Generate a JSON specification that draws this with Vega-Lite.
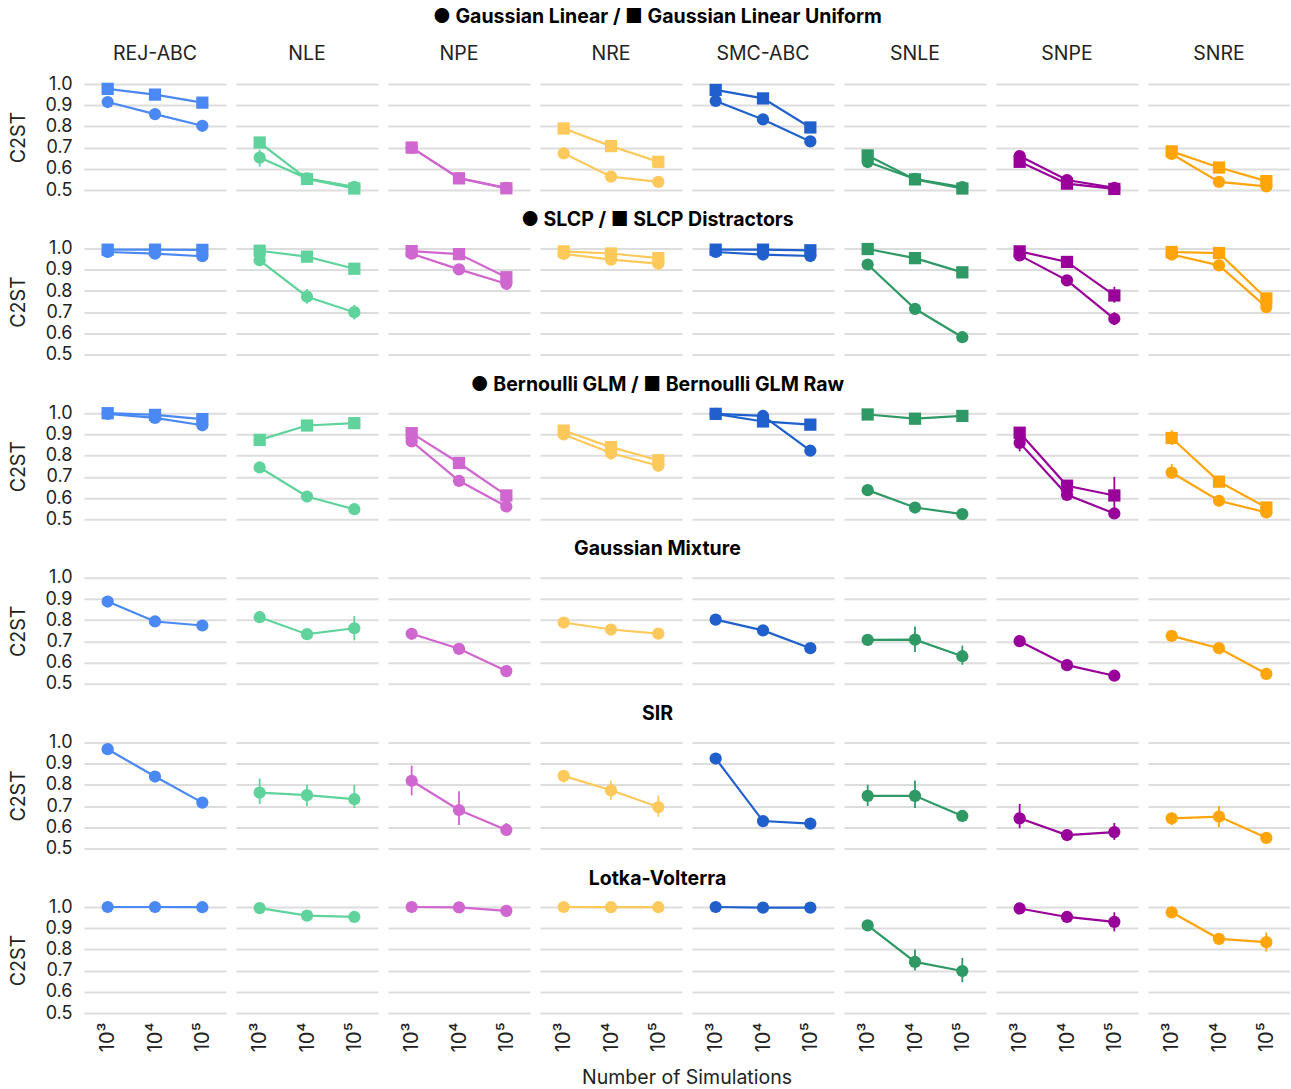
{
  "$schema": "https://vega.github.io/schema/vega-lite/v6.json",
  "padding": {"left": 8, "top": 7, "right": 0, "bottom": 0},
  "config": {
    "font": "Inter",
    "view": {"stroke": null},
    "title": {"fontSize": 19.5, "fontWeight": "bold", "color": "#000", "anchor": "middle", "offset": 9, "dx": 8},
    "axis": {"labelFontSize": 18, "labelColor": "#222", "titleFontSize": 19.5, "titleFontWeight": "normal", "titleColor": "#222", "domain": false, "ticks": false},
    "header": {"labelFontSize": 19.5, "labelColor": "#222", "titleFontSize": 19.5, "titleFontWeight": "normal", "titleColor": "#222"},
    "facet": {"spacing": 10},
    "concat": {"spacing": 10.6}
  },
  "datasets": {
    "r1": [
      {"alg":"REJ-ABC","sims":"10³","shape":"circle","c2st":0.915},
      {"alg":"REJ-ABC","sims":"10⁴","shape":"circle","c2st":0.858},
      {"alg":"REJ-ABC","sims":"10⁵","shape":"circle","c2st":0.803},
      {"alg":"REJ-ABC","sims":"10³","shape":"square","c2st":0.977},
      {"alg":"REJ-ABC","sims":"10⁴","shape":"square","c2st":0.950},
      {"alg":"REJ-ABC","sims":"10⁵","shape":"square","c2st":0.912},
      {"alg":"NLE","sims":"10³","shape":"circle","c2st":0.653,"lo":0.61,"hi":0.69},
      {"alg":"NLE","sims":"10⁴","shape":"circle","c2st":0.555},
      {"alg":"NLE","sims":"10⁵","shape":"circle","c2st":0.515},
      {"alg":"NLE","sims":"10³","shape":"square","c2st":0.724},
      {"alg":"NLE","sims":"10⁴","shape":"square","c2st":0.552},
      {"alg":"NLE","sims":"10⁵","shape":"square","c2st":0.507},
      {"alg":"NPE","sims":"10³","shape":"circle","c2st":0.700},
      {"alg":"NPE","sims":"10⁴","shape":"circle","c2st":0.556},
      {"alg":"NPE","sims":"10⁵","shape":"circle","c2st":0.510},
      {"alg":"NPE","sims":"10³","shape":"square","c2st":0.700},
      {"alg":"NPE","sims":"10⁴","shape":"square","c2st":0.555},
      {"alg":"NPE","sims":"10⁵","shape":"square","c2st":0.508},
      {"alg":"NRE","sims":"10³","shape":"circle","c2st":0.673},
      {"alg":"NRE","sims":"10⁴","shape":"circle","c2st":0.563},
      {"alg":"NRE","sims":"10⁵","shape":"circle","c2st":0.538},
      {"alg":"NRE","sims":"10³","shape":"square","c2st":0.790,"lo":0.775,"hi":0.81},
      {"alg":"NRE","sims":"10⁴","shape":"square","c2st":0.707},
      {"alg":"NRE","sims":"10⁵","shape":"square","c2st":0.633},
      {"alg":"SMC-ABC","sims":"10³","shape":"circle","c2st":0.920},
      {"alg":"SMC-ABC","sims":"10⁴","shape":"circle","c2st":0.833},
      {"alg":"SMC-ABC","sims":"10⁵","shape":"circle","c2st":0.729},
      {"alg":"SMC-ABC","sims":"10³","shape":"square","c2st":0.972,"lo":0.955,"hi":0.99},
      {"alg":"SMC-ABC","sims":"10⁴","shape":"square","c2st":0.932,"lo":0.915,"hi":0.948},
      {"alg":"SMC-ABC","sims":"10⁵","shape":"square","c2st":0.795},
      {"alg":"SNLE","sims":"10³","shape":"circle","c2st":0.632},
      {"alg":"SNLE","sims":"10⁴","shape":"circle","c2st":0.552},
      {"alg":"SNLE","sims":"10⁵","shape":"circle","c2st":0.514},
      {"alg":"SNLE","sims":"10³","shape":"square","c2st":0.663},
      {"alg":"SNLE","sims":"10⁴","shape":"square","c2st":0.550},
      {"alg":"SNLE","sims":"10⁵","shape":"square","c2st":0.507},
      {"alg":"SNPE","sims":"10³","shape":"circle","c2st":0.660},
      {"alg":"SNPE","sims":"10⁴","shape":"circle","c2st":0.547},
      {"alg":"SNPE","sims":"10⁵","shape":"circle","c2st":0.510},
      {"alg":"SNPE","sims":"10³","shape":"square","c2st":0.633},
      {"alg":"SNPE","sims":"10⁴","shape":"square","c2st":0.530},
      {"alg":"SNPE","sims":"10⁵","shape":"square","c2st":0.505},
      {"alg":"SNRE","sims":"10³","shape":"circle","c2st":0.670},
      {"alg":"SNRE","sims":"10⁴","shape":"circle","c2st":0.538},
      {"alg":"SNRE","sims":"10⁵","shape":"circle","c2st":0.517},
      {"alg":"SNRE","sims":"10³","shape":"square","c2st":0.682},
      {"alg":"SNRE","sims":"10⁴","shape":"square","c2st":0.606},
      {"alg":"SNRE","sims":"10⁵","shape":"square","c2st":0.542}
    ],
    "r2": [
      {"alg":"REJ-ABC","sims":"10³","shape":"circle","c2st":0.984},
      {"alg":"REJ-ABC","sims":"10⁴","shape":"circle","c2st":0.976},
      {"alg":"REJ-ABC","sims":"10⁵","shape":"circle","c2st":0.964},
      {"alg":"REJ-ABC","sims":"10³","shape":"square","c2st":0.995},
      {"alg":"REJ-ABC","sims":"10⁴","shape":"square","c2st":0.995},
      {"alg":"REJ-ABC","sims":"10⁵","shape":"square","c2st":0.994},
      {"alg":"NLE","sims":"10³","shape":"circle","c2st":0.945},
      {"alg":"NLE","sims":"10⁴","shape":"circle","c2st":0.773,"lo":0.74,"hi":0.81},
      {"alg":"NLE","sims":"10⁵","shape":"circle","c2st":0.700,"lo":0.665,"hi":0.735},
      {"alg":"NLE","sims":"10³","shape":"square","c2st":0.990},
      {"alg":"NLE","sims":"10⁴","shape":"square","c2st":0.962},
      {"alg":"NLE","sims":"10⁵","shape":"square","c2st":0.905},
      {"alg":"NPE","sims":"10³","shape":"circle","c2st":0.976},
      {"alg":"NPE","sims":"10⁴","shape":"circle","c2st":0.902},
      {"alg":"NPE","sims":"10⁵","shape":"circle","c2st":0.834},
      {"alg":"NPE","sims":"10³","shape":"square","c2st":0.988},
      {"alg":"NPE","sims":"10⁴","shape":"square","c2st":0.974},
      {"alg":"NPE","sims":"10⁵","shape":"square","c2st":0.865,"lo":0.845,"hi":0.88},
      {"alg":"NRE","sims":"10³","shape":"circle","c2st":0.975},
      {"alg":"NRE","sims":"10⁴","shape":"circle","c2st":0.948},
      {"alg":"NRE","sims":"10⁵","shape":"circle","c2st":0.929},
      {"alg":"NRE","sims":"10³","shape":"square","c2st":0.987},
      {"alg":"NRE","sims":"10⁴","shape":"square","c2st":0.977},
      {"alg":"NRE","sims":"10⁵","shape":"square","c2st":0.955},
      {"alg":"SMC-ABC","sims":"10³","shape":"circle","c2st":0.984},
      {"alg":"SMC-ABC","sims":"10⁴","shape":"circle","c2st":0.972},
      {"alg":"SMC-ABC","sims":"10⁵","shape":"circle","c2st":0.965},
      {"alg":"SMC-ABC","sims":"10³","shape":"square","c2st":0.995},
      {"alg":"SMC-ABC","sims":"10⁴","shape":"square","c2st":0.995},
      {"alg":"SMC-ABC","sims":"10⁵","shape":"square","c2st":0.992},
      {"alg":"SNLE","sims":"10³","shape":"circle","c2st":0.925},
      {"alg":"SNLE","sims":"10⁴","shape":"circle","c2st":0.716},
      {"alg":"SNLE","sims":"10⁵","shape":"circle","c2st":0.582},
      {"alg":"SNLE","sims":"10³","shape":"square","c2st":0.998},
      {"alg":"SNLE","sims":"10⁴","shape":"square","c2st":0.955},
      {"alg":"SNLE","sims":"10⁵","shape":"square","c2st":0.888},
      {"alg":"SNPE","sims":"10³","shape":"circle","c2st":0.968},
      {"alg":"SNPE","sims":"10⁴","shape":"circle","c2st":0.850},
      {"alg":"SNPE","sims":"10⁵","shape":"circle","c2st":0.669,"lo":0.64,"hi":0.70},
      {"alg":"SNPE","sims":"10³","shape":"square","c2st":0.987},
      {"alg":"SNPE","sims":"10⁴","shape":"square","c2st":0.937},
      {"alg":"SNPE","sims":"10⁵","shape":"square","c2st":0.779,"lo":0.745,"hi":0.82},
      {"alg":"SNRE","sims":"10³","shape":"circle","c2st":0.972},
      {"alg":"SNRE","sims":"10⁴","shape":"circle","c2st":0.921},
      {"alg":"SNRE","sims":"10⁵","shape":"circle","c2st":0.724,"lo":0.71,"hi":0.74},
      {"alg":"SNRE","sims":"10³","shape":"square","c2st":0.984},
      {"alg":"SNRE","sims":"10⁴","shape":"square","c2st":0.979},
      {"alg":"SNRE","sims":"10⁵","shape":"square","c2st":0.765,"lo":0.74,"hi":0.78}
    ],
    "r3": [
      {"alg":"REJ-ABC","sims":"10³","shape":"circle","c2st":0.997},
      {"alg":"REJ-ABC","sims":"10⁴","shape":"circle","c2st":0.978},
      {"alg":"REJ-ABC","sims":"10⁵","shape":"circle","c2st":0.943},
      {"alg":"REJ-ABC","sims":"10³","shape":"square","c2st":1.0},
      {"alg":"REJ-ABC","sims":"10⁴","shape":"square","c2st":0.992},
      {"alg":"REJ-ABC","sims":"10⁵","shape":"square","c2st":0.972},
      {"alg":"NLE","sims":"10³","shape":"circle","c2st":0.744},
      {"alg":"NLE","sims":"10⁴","shape":"circle","c2st":0.607},
      {"alg":"NLE","sims":"10⁵","shape":"circle","c2st":0.547},
      {"alg":"NLE","sims":"10³","shape":"square","c2st":0.874,"lo":0.86,"hi":0.89},
      {"alg":"NLE","sims":"10⁴","shape":"square","c2st":0.942},
      {"alg":"NLE","sims":"10⁵","shape":"square","c2st":0.953},
      {"alg":"NPE","sims":"10³","shape":"circle","c2st":0.867},
      {"alg":"NPE","sims":"10⁴","shape":"circle","c2st":0.681},
      {"alg":"NPE","sims":"10⁵","shape":"circle","c2st":0.560},
      {"alg":"NPE","sims":"10³","shape":"square","c2st":0.906},
      {"alg":"NPE","sims":"10⁴","shape":"square","c2st":0.765},
      {"alg":"NPE","sims":"10⁵","shape":"square","c2st":0.612},
      {"alg":"NRE","sims":"10³","shape":"circle","c2st":0.900},
      {"alg":"NRE","sims":"10⁴","shape":"circle","c2st":0.812,"lo":0.78,"hi":0.84},
      {"alg":"NRE","sims":"10⁵","shape":"circle","c2st":0.752},
      {"alg":"NRE","sims":"10³","shape":"square","c2st":0.918},
      {"alg":"NRE","sims":"10⁴","shape":"square","c2st":0.840},
      {"alg":"NRE","sims":"10⁵","shape":"square","c2st":0.778},
      {"alg":"SMC-ABC","sims":"10³","shape":"circle","c2st":0.997},
      {"alg":"SMC-ABC","sims":"10⁴","shape":"circle","c2st":0.987},
      {"alg":"SMC-ABC","sims":"10⁵","shape":"circle","c2st":0.823},
      {"alg":"SMC-ABC","sims":"10³","shape":"square","c2st":0.997},
      {"alg":"SMC-ABC","sims":"10⁴","shape":"square","c2st":0.961},
      {"alg":"SMC-ABC","sims":"10⁵","shape":"square","c2st":0.946},
      {"alg":"SNLE","sims":"10³","shape":"circle","c2st":0.637},
      {"alg":"SNLE","sims":"10⁴","shape":"circle","c2st":0.555},
      {"alg":"SNLE","sims":"10⁵","shape":"circle","c2st":0.524},
      {"alg":"SNLE","sims":"10³","shape":"square","c2st":0.994},
      {"alg":"SNLE","sims":"10⁴","shape":"square","c2st":0.974},
      {"alg":"SNLE","sims":"10⁵","shape":"square","c2st":0.987},
      {"alg":"SNPE","sims":"10³","shape":"circle","c2st":0.860,"lo":0.82,"hi":0.89},
      {"alg":"SNPE","sims":"10⁴","shape":"circle","c2st":0.615},
      {"alg":"SNPE","sims":"10⁵","shape":"circle","c2st":0.527},
      {"alg":"SNPE","sims":"10³","shape":"square","c2st":0.908,"lo":0.88,"hi":0.93},
      {"alg":"SNPE","sims":"10⁴","shape":"square","c2st":0.658},
      {"alg":"SNPE","sims":"10⁵","shape":"square","c2st":0.612,"lo":0.52,"hi":0.70},
      {"alg":"SNRE","sims":"10³","shape":"circle","c2st":0.720,"lo":0.69,"hi":0.76},
      {"alg":"SNRE","sims":"10⁴","shape":"circle","c2st":0.587},
      {"alg":"SNRE","sims":"10⁵","shape":"circle","c2st":0.532},
      {"alg":"SNRE","sims":"10³","shape":"square","c2st":0.883,"lo":0.85,"hi":0.92},
      {"alg":"SNRE","sims":"10⁴","shape":"square","c2st":0.677,"lo":0.65,"hi":0.70},
      {"alg":"SNRE","sims":"10⁵","shape":"square","c2st":0.555}
    ],
    "r4": [
      {"alg":"REJ-ABC","sims":"10³","shape":"circle","c2st":0.888},
      {"alg":"REJ-ABC","sims":"10⁴","shape":"circle","c2st":0.794},
      {"alg":"REJ-ABC","sims":"10⁵","shape":"circle","c2st":0.775},
      {"alg":"NLE","sims":"10³","shape":"circle","c2st":0.814,"lo":0.79,"hi":0.835},
      {"alg":"NLE","sims":"10⁴","shape":"circle","c2st":0.734},
      {"alg":"NLE","sims":"10⁵","shape":"circle","c2st":0.762,"lo":0.705,"hi":0.82},
      {"alg":"NPE","sims":"10³","shape":"circle","c2st":0.736},
      {"alg":"NPE","sims":"10⁴","shape":"circle","c2st":0.665},
      {"alg":"NPE","sims":"10⁵","shape":"circle","c2st":0.560},
      {"alg":"NRE","sims":"10³","shape":"circle","c2st":0.789},
      {"alg":"NRE","sims":"10⁴","shape":"circle","c2st":0.756},
      {"alg":"NRE","sims":"10⁵","shape":"circle","c2st":0.737},
      {"alg":"SMC-ABC","sims":"10³","shape":"circle","c2st":0.803},
      {"alg":"SMC-ABC","sims":"10⁴","shape":"circle","c2st":0.752},
      {"alg":"SMC-ABC","sims":"10⁵","shape":"circle","c2st":0.668},
      {"alg":"SNLE","sims":"10³","shape":"circle","c2st":0.707},
      {"alg":"SNLE","sims":"10⁴","shape":"circle","c2st":0.708,"lo":0.65,"hi":0.77},
      {"alg":"SNLE","sims":"10⁵","shape":"circle","c2st":0.630,"lo":0.59,"hi":0.68},
      {"alg":"SNPE","sims":"10³","shape":"circle","c2st":0.701},
      {"alg":"SNPE","sims":"10⁴","shape":"circle","c2st":0.588},
      {"alg":"SNPE","sims":"10⁵","shape":"circle","c2st":0.538},
      {"alg":"SNRE","sims":"10³","shape":"circle","c2st":0.726},
      {"alg":"SNRE","sims":"10⁴","shape":"circle","c2st":0.668,"lo":0.65,"hi":0.685},
      {"alg":"SNRE","sims":"10⁵","shape":"circle","c2st":0.547}
    ],
    "r5": [
      {"alg":"REJ-ABC","sims":"10³","shape":"circle","c2st":0.968},
      {"alg":"REJ-ABC","sims":"10⁴","shape":"circle","c2st":0.839},
      {"alg":"REJ-ABC","sims":"10⁵","shape":"circle","c2st":0.716},
      {"alg":"NLE","sims":"10³","shape":"circle","c2st":0.763,"lo":0.71,"hi":0.83},
      {"alg":"NLE","sims":"10⁴","shape":"circle","c2st":0.751,"lo":0.70,"hi":0.80},
      {"alg":"NLE","sims":"10⁵","shape":"circle","c2st":0.732,"lo":0.69,"hi":0.80},
      {"alg":"NPE","sims":"10³","shape":"circle","c2st":0.819,"lo":0.75,"hi":0.89},
      {"alg":"NPE","sims":"10⁴","shape":"circle","c2st":0.681,"lo":0.61,"hi":0.77},
      {"alg":"NPE","sims":"10⁵","shape":"circle","c2st":0.587,"lo":0.57,"hi":0.62},
      {"alg":"NRE","sims":"10³","shape":"circle","c2st":0.842,"lo":0.81,"hi":0.87},
      {"alg":"NRE","sims":"10⁴","shape":"circle","c2st":0.774,"lo":0.73,"hi":0.82},
      {"alg":"NRE","sims":"10⁵","shape":"circle","c2st":0.695,"lo":0.65,"hi":0.75},
      {"alg":"SMC-ABC","sims":"10³","shape":"circle","c2st":0.924},
      {"alg":"SMC-ABC","sims":"10⁴","shape":"circle","c2st":0.629},
      {"alg":"SMC-ABC","sims":"10⁵","shape":"circle","c2st":0.617},
      {"alg":"SNLE","sims":"10³","shape":"circle","c2st":0.748,"lo":0.70,"hi":0.80},
      {"alg":"SNLE","sims":"10⁴","shape":"circle","c2st":0.748,"lo":0.69,"hi":0.82},
      {"alg":"SNLE","sims":"10⁵","shape":"circle","c2st":0.653},
      {"alg":"SNPE","sims":"10³","shape":"circle","c2st":0.642,"lo":0.595,"hi":0.71},
      {"alg":"SNPE","sims":"10⁴","shape":"circle","c2st":0.563},
      {"alg":"SNPE","sims":"10⁵","shape":"circle","c2st":0.577,"lo":0.54,"hi":0.62},
      {"alg":"SNRE","sims":"10³","shape":"circle","c2st":0.642,"lo":0.61,"hi":0.67},
      {"alg":"SNRE","sims":"10⁴","shape":"circle","c2st":0.650,"lo":0.60,"hi":0.70},
      {"alg":"SNRE","sims":"10⁵","shape":"circle","c2st":0.550}
    ],
    "r6": [
      {"alg":"REJ-ABC","sims":"10³","shape":"circle","c2st":1.0},
      {"alg":"REJ-ABC","sims":"10⁴","shape":"circle","c2st":1.0},
      {"alg":"REJ-ABC","sims":"10⁵","shape":"circle","c2st":0.999},
      {"alg":"NLE","sims":"10³","shape":"circle","c2st":0.995},
      {"alg":"NLE","sims":"10⁴","shape":"circle","c2st":0.959},
      {"alg":"NLE","sims":"10⁵","shape":"circle","c2st":0.953},
      {"alg":"NPE","sims":"10³","shape":"circle","c2st":1.0},
      {"alg":"NPE","sims":"10⁴","shape":"circle","c2st":0.998},
      {"alg":"NPE","sims":"10⁵","shape":"circle","c2st":0.982},
      {"alg":"NRE","sims":"10³","shape":"circle","c2st":1.0},
      {"alg":"NRE","sims":"10⁴","shape":"circle","c2st":0.999},
      {"alg":"NRE","sims":"10⁵","shape":"circle","c2st":0.999},
      {"alg":"SMC-ABC","sims":"10³","shape":"circle","c2st":1.0},
      {"alg":"SMC-ABC","sims":"10⁴","shape":"circle","c2st":0.997},
      {"alg":"SMC-ABC","sims":"10⁵","shape":"circle","c2st":0.997},
      {"alg":"SNLE","sims":"10³","shape":"circle","c2st":0.913},
      {"alg":"SNLE","sims":"10⁴","shape":"circle","c2st":0.741,"lo":0.70,"hi":0.80},
      {"alg":"SNLE","sims":"10⁵","shape":"circle","c2st":0.698,"lo":0.645,"hi":0.76},
      {"alg":"SNPE","sims":"10³","shape":"circle","c2st":0.993},
      {"alg":"SNPE","sims":"10⁴","shape":"circle","c2st":0.953},
      {"alg":"SNPE","sims":"10⁵","shape":"circle","c2st":0.930,"lo":0.885,"hi":0.975},
      {"alg":"SNRE","sims":"10³","shape":"circle","c2st":0.975},
      {"alg":"SNRE","sims":"10⁴","shape":"circle","c2st":0.850,"lo":0.83,"hi":0.875},
      {"alg":"SNRE","sims":"10⁵","shape":"circle","c2st":0.834,"lo":0.79,"hi":0.88}
    ]
  },
  "resolve": {"scale": {"color": "shared", "shape": "shared"}},
  "vconcat": [
    {
      "data": {"name": "r1"},
      "title": {"text": "● Gaussian Linear / ■ Gaussian Linear Uniform", "offset": 16},
      "facet": {"column": {"field": "alg", "type": "nominal", "sort": ["REJ-ABC","NLE","NPE","NRE","SMC-ABC","SNLE","SNPE","SNRE"], "header": {"title": null, "labelPadding": 18}}},
      "spec": {
        "width": 142, "height": 106,
        "encoding": {
          "x": {"field": "sims", "type": "ordinal", "sort": ["10³","10⁴","10⁵"], "scale": {"type": "point"}, "axis": null},
          "y": {"field": "c2st", "type": "quantitative", "scale": {"domain": [0.5, 1.0], "nice": false, "zero": false}, "axis": {"title": "C2ST", "values": [0.5,0.6,0.7,0.8,0.9,1.0], "format": ".1f", "grid": true, "gridColor": "#dddddd", "gridWidth": 2, "labelPadding": 12, "titlePadding": 16}},
          "color": {"field": "alg", "type": "nominal", "legend": null, "scale": {"domain": ["REJ-ABC","NLE","NPE","NRE","SMC-ABC","SNLE","SNPE","SNRE"], "range": ["#4a89f3","#5fd39b","#d066cf","#fec95b","#2060cc","#2f9965","#990099","#ffa50a"]}}
        },
        "layer": [
          {"transform": [{"filter": "isValid(datum.lo)"}], "mark": {"type": "rule", "strokeWidth": 1.8}, "encoding": {"y": {"field": "lo", "type": "quantitative"}, "y2": {"field": "hi"}}},
          {"mark": {"type": "line", "strokeWidth": 2.2}, "encoding": {"detail": {"field": "shape"}}},
          {"mark": {"type": "point", "filled": true, "opacity": 1, "size": 150}, "encoding": {"shape": {"field": "shape", "type": "nominal", "legend": null, "scale": {"domain": ["circle","square"], "range": ["circle","square"]}}}}
        ]
      }
    },
    {
      "data": {"name": "r2"},
      "title": "● SLCP / ■ SLCP Distractors",
      "facet": {"column": {"field": "alg", "type": "nominal", "sort": ["REJ-ABC","NLE","NPE","NRE","SMC-ABC","SNLE","SNPE","SNRE"], "header": {"title": null, "labels": false}}},
      "spec": {
        "width": 142, "height": 106,
        "encoding": {
          "x": {"field": "sims", "type": "ordinal", "sort": ["10³","10⁴","10⁵"], "scale": {"type": "point"}, "axis": null},
          "y": {"field": "c2st", "type": "quantitative", "scale": {"domain": [0.5, 1.0], "nice": false, "zero": false}, "axis": {"title": "C2ST", "values": [0.5,0.6,0.7,0.8,0.9,1.0], "format": ".1f", "grid": true, "gridColor": "#dddddd", "gridWidth": 2, "labelPadding": 12, "titlePadding": 16}},
          "color": {"field": "alg", "type": "nominal", "legend": null}
        },
        "layer": [
          {"transform": [{"filter": "isValid(datum.lo)"}], "mark": {"type": "rule", "strokeWidth": 1.8}, "encoding": {"y": {"field": "lo", "type": "quantitative"}, "y2": {"field": "hi"}}},
          {"mark": {"type": "line", "strokeWidth": 2.2}, "encoding": {"detail": {"field": "shape"}}},
          {"mark": {"type": "point", "filled": true, "opacity": 1, "size": 150}, "encoding": {"shape": {"field": "shape", "type": "nominal", "legend": null}}}
        ]
      }
    },
    {
      "data": {"name": "r3"},
      "title": "● Bernoulli GLM / ■ Bernoulli GLM Raw",
      "facet": {"column": {"field": "alg", "type": "nominal", "sort": ["REJ-ABC","NLE","NPE","NRE","SMC-ABC","SNLE","SNPE","SNRE"], "header": {"title": null, "labels": false}}},
      "spec": {
        "width": 142, "height": 106,
        "encoding": {
          "x": {"field": "sims", "type": "ordinal", "sort": ["10³","10⁴","10⁵"], "scale": {"type": "point"}, "axis": null},
          "y": {"field": "c2st", "type": "quantitative", "scale": {"domain": [0.5, 1.0], "nice": false, "zero": false}, "axis": {"title": "C2ST", "values": [0.5,0.6,0.7,0.8,0.9,1.0], "format": ".1f", "grid": true, "gridColor": "#dddddd", "gridWidth": 2, "labelPadding": 12, "titlePadding": 16}},
          "color": {"field": "alg", "type": "nominal", "legend": null}
        },
        "layer": [
          {"transform": [{"filter": "isValid(datum.lo)"}], "mark": {"type": "rule", "strokeWidth": 1.8}, "encoding": {"y": {"field": "lo", "type": "quantitative"}, "y2": {"field": "hi"}}},
          {"mark": {"type": "line", "strokeWidth": 2.2}, "encoding": {"detail": {"field": "shape"}}},
          {"mark": {"type": "point", "filled": true, "opacity": 1, "size": 150}, "encoding": {"shape": {"field": "shape", "type": "nominal", "legend": null}}}
        ]
      }
    },
    {
      "data": {"name": "r4"},
      "title": "Gaussian Mixture",
      "facet": {"column": {"field": "alg", "type": "nominal", "sort": ["REJ-ABC","NLE","NPE","NRE","SMC-ABC","SNLE","SNPE","SNRE"], "header": {"title": null, "labels": false}}},
      "spec": {
        "width": 142, "height": 106,
        "encoding": {
          "x": {"field": "sims", "type": "ordinal", "sort": ["10³","10⁴","10⁵"], "scale": {"type": "point"}, "axis": null},
          "y": {"field": "c2st", "type": "quantitative", "scale": {"domain": [0.5, 1.0], "nice": false, "zero": false}, "axis": {"title": "C2ST", "values": [0.5,0.6,0.7,0.8,0.9,1.0], "format": ".1f", "grid": true, "gridColor": "#dddddd", "gridWidth": 2, "labelPadding": 12, "titlePadding": 16}},
          "color": {"field": "alg", "type": "nominal", "legend": null}
        },
        "layer": [
          {"transform": [{"filter": "isValid(datum.lo)"}], "mark": {"type": "rule", "strokeWidth": 1.8}, "encoding": {"y": {"field": "lo", "type": "quantitative"}, "y2": {"field": "hi"}}},
          {"mark": {"type": "line", "strokeWidth": 2.2}, "encoding": {"detail": {"field": "shape"}}},
          {"mark": {"type": "point", "filled": true, "opacity": 1, "size": 150}, "encoding": {"shape": {"field": "shape", "type": "nominal", "legend": null}}}
        ]
      }
    },
    {
      "data": {"name": "r5"},
      "title": "SIR",
      "facet": {"column": {"field": "alg", "type": "nominal", "sort": ["REJ-ABC","NLE","NPE","NRE","SMC-ABC","SNLE","SNPE","SNRE"], "header": {"title": null, "labels": false}}},
      "spec": {
        "width": 142, "height": 106,
        "encoding": {
          "x": {"field": "sims", "type": "ordinal", "sort": ["10³","10⁴","10⁵"], "scale": {"type": "point"}, "axis": null},
          "y": {"field": "c2st", "type": "quantitative", "scale": {"domain": [0.5, 1.0], "nice": false, "zero": false}, "axis": {"title": "C2ST", "values": [0.5,0.6,0.7,0.8,0.9,1.0], "format": ".1f", "grid": true, "gridColor": "#dddddd", "gridWidth": 2, "labelPadding": 12, "titlePadding": 16}},
          "color": {"field": "alg", "type": "nominal", "legend": null}
        },
        "layer": [
          {"transform": [{"filter": "isValid(datum.lo)"}], "mark": {"type": "rule", "strokeWidth": 1.8}, "encoding": {"y": {"field": "lo", "type": "quantitative"}, "y2": {"field": "hi"}}},
          {"mark": {"type": "line", "strokeWidth": 2.2}, "encoding": {"detail": {"field": "shape"}}},
          {"mark": {"type": "point", "filled": true, "opacity": 1, "size": 150}, "encoding": {"shape": {"field": "shape", "type": "nominal", "legend": null}}}
        ]
      }
    },
    {
      "data": {"name": "r6"},
      "title": "Lotka-Volterra",
      "facet": {"column": {"field": "alg", "type": "nominal", "sort": ["REJ-ABC","NLE","NPE","NRE","SMC-ABC","SNLE","SNPE","SNRE"], "header": {"title": "Number of Simulations", "titleOrient": "bottom", "labels": false, "titlePadding": 7}}},
      "spec": {
        "width": 142, "height": 106,
        "encoding": {
          "x": {"field": "sims", "type": "ordinal", "sort": ["10³","10⁴","10⁵"], "scale": {"type": "point"}, "axis": {"title": null, "labelAngle": -90, "labelAlign": "right", "labelBaseline": "middle", "labelPadding": 9, "labelFontSize": 20}},
          "y": {"field": "c2st", "type": "quantitative", "scale": {"domain": [0.5, 1.0], "nice": false, "zero": false}, "axis": {"title": "C2ST", "values": [0.5,0.6,0.7,0.8,0.9,1.0], "format": ".1f", "grid": true, "gridColor": "#dddddd", "gridWidth": 2, "labelPadding": 12, "titlePadding": 16}},
          "color": {"field": "alg", "type": "nominal", "legend": null}
        },
        "layer": [
          {"transform": [{"filter": "isValid(datum.lo)"}], "mark": {"type": "rule", "strokeWidth": 1.8}, "encoding": {"y": {"field": "lo", "type": "quantitative"}, "y2": {"field": "hi"}}},
          {"mark": {"type": "line", "strokeWidth": 2.2}, "encoding": {"detail": {"field": "shape"}}},
          {"mark": {"type": "point", "filled": true, "opacity": 1, "size": 150}, "encoding": {"shape": {"field": "shape", "type": "nominal", "legend": null}}}
        ]
      }
    }
  ]
}
